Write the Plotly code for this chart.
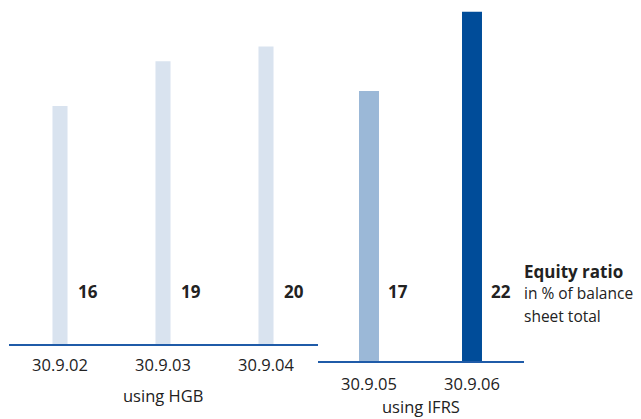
import plotly.graph_objects as go

# Equity ratio, in % of balance sheet total
hgb_dates = ["30.9.02", "30.9.03", "30.9.04"]
hgb_values = [16, 19, 20]
ifrs_dates = ["30.9.05", "30.9.06"]
ifrs_values = [17, 22]

W, H = 641, 419
FONT = "Open Sans"
TXT = "#222222"
AXIS_BLUE = "#1f5ba8"
HGB_COLOR = "#d9e3ef"
IFRS_COLORS = ["#9bb8d7", "#004c99"]
FS = 16.5


def px_x(p):
    return p / W


def px_y(p):
    # pixel measured from the top -> paper fraction
    return 1 - p / H


fig = go.Figure()

fig.add_trace(go.Bar(
    x=list(range(len(hgb_dates))), y=hgb_values,
    marker=dict(color=HGB_COLOR, line=dict(width=0)),
    width=0.146, xaxis="x", yaxis="y", hoverinfo="skip",
))
fig.add_trace(go.Bar(
    x=list(range(len(ifrs_dates))), y=ifrs_values,
    marker=dict(color=IFRS_COLORS, line=dict(width=0)),
    width=0.194, xaxis="x2", yaxis="y2", hoverinfo="skip",
))

left_base, left_scale = 344, 14.88
right_base, right_scale = 361, 15.88

axis_common = dict(
    showgrid=False, zeroline=False, showline=True, linecolor=AXIS_BLUE,
    linewidth=2, ticks="", tickfont=dict(family=FONT, size=FS, color=TXT),
    fixedrange=True,
)

fig.update_layout(
    width=W, height=H, margin=dict(l=0, r=0, t=0, b=0),
    paper_bgcolor="white", plot_bgcolor="white", showlegend=False,
    xaxis=dict(
        domain=[px_x(8.5), px_x(317.5)], range=[-0.5, len(hgb_dates) - 0.5],
        tickvals=list(range(len(hgb_dates))), ticktext=hgb_dates,
        anchor="y", ticklabelstandoff=5, **axis_common,
    ),
    yaxis=dict(
        domain=[px_y(left_base), 1], range=[0, left_base / left_scale],
        visible=False, fixedrange=True,
    ),
    xaxis2=dict(
        domain=[px_x(317.5), px_x(523.5)], range=[-0.5, len(ifrs_dates) - 0.5],
        tickvals=list(range(len(ifrs_dates))), ticktext=ifrs_dates,
        anchor="y2", ticklabelstandoff=7, **axis_common,
    ),
    yaxis2=dict(
        domain=[px_y(right_base), 1], range=[0, right_base / right_scale],
        visible=False, fixedrange=True,
    ),
)

label_y = px_y(291)
anns = []
for i, v in enumerate(hgb_values):
    anns.append(dict(x=i + 0.275, y=label_y, xref="x", yref="paper", yanchor="middle",
                     text=f"<b>{v}</b>", showarrow=False,
                     font=dict(family=FONT, size=17, color=TXT)))
for i, v in enumerate(ifrs_values):
    anns.append(dict(x=i + 0.28, y=label_y, xref="x2", yref="paper", yanchor="middle",
                     text=f"<b>{v}</b>", showarrow=False,
                     font=dict(family=FONT, size=17, color=TXT)))

anns.append(dict(x=1, y=px_y(395), xref="x", yref="paper", yanchor="middle",
                 text="using HGB", showarrow=False,
                 font=dict(family=FONT, size=FS, color=TXT)))
anns.append(dict(x=0.5, y=px_y(406), xref="x2", yref="paper", yanchor="middle",
                 text="using IFRS", showarrow=False,
                 font=dict(family=FONT, size=FS, color=TXT)))

legend_lines = [("<b>Equity ratio</b>", 271, 17), ("in % of balance", 293, 15.5),
                ("sheet total", 316, 15.5)]
for text, yc, size in legend_lines:
    anns.append(dict(x=px_x(522), y=px_y(yc), xref="paper", yref="paper", text=text,
                     xanchor="left", yanchor="middle", showarrow=False,
                     font=dict(family=FONT, size=size, color=TXT)))

fig.update_layout(annotations=anns)
fig.write_html("out.html")
